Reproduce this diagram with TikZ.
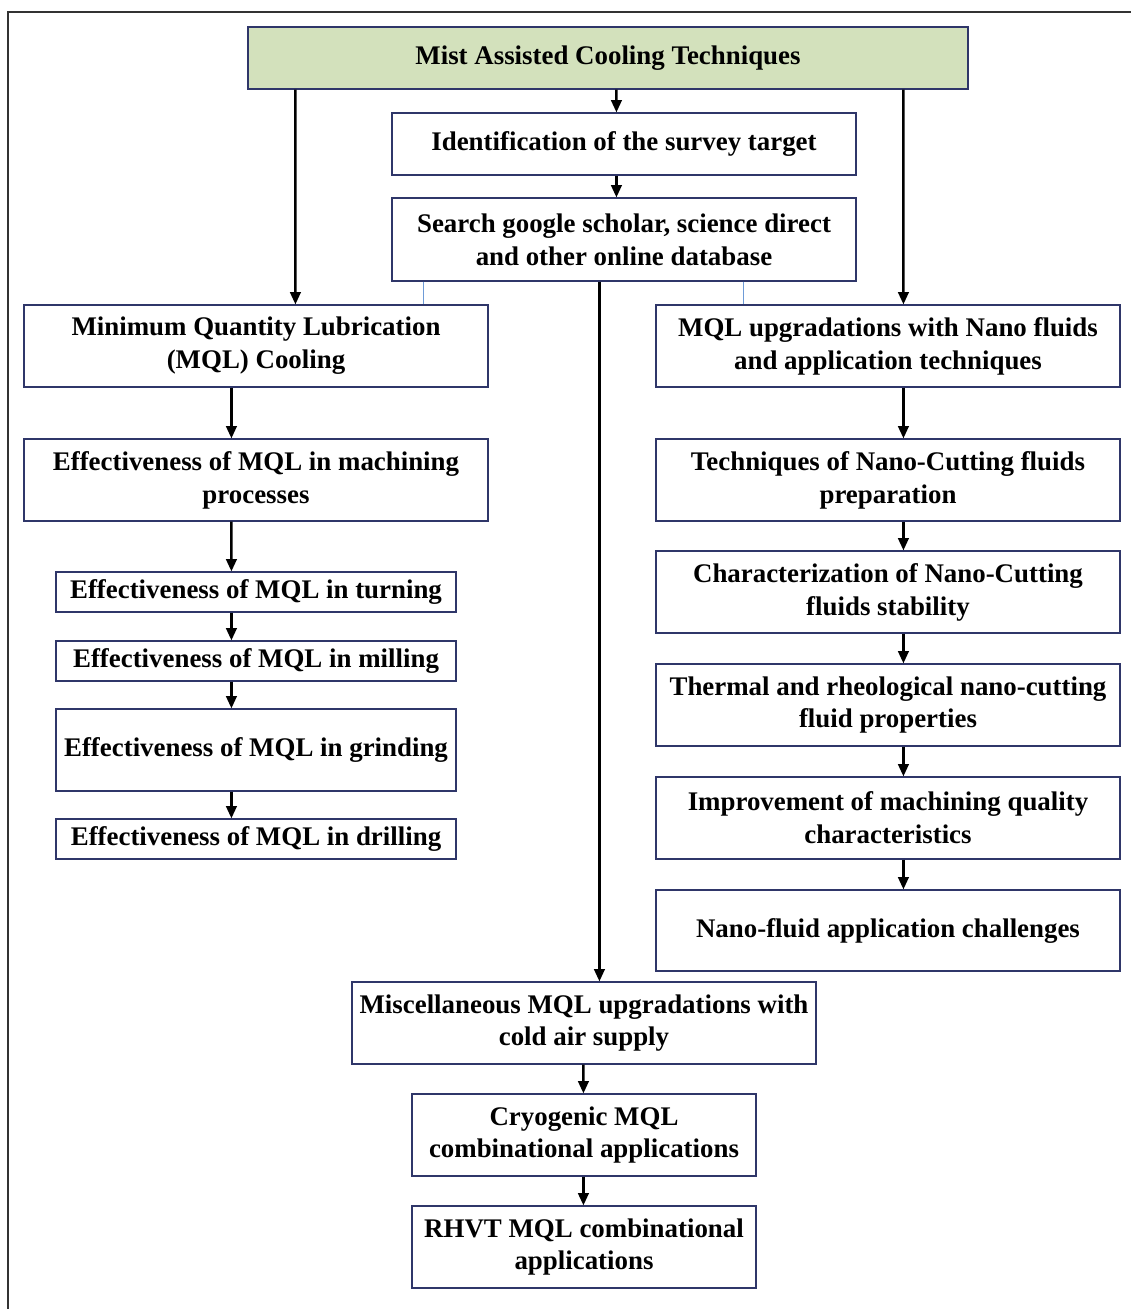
\documentclass[tikz,border=0pt]{standalone}
\usepackage{fontspec}
\setmainfont{Liberation Serif}
\usetikzlibrary{calc,arrows.meta}
\definecolor{navy}{RGB}{47,54,105}
\definecolor{topgreen}{RGB}{211,225,188}
\definecolor{thinblue}{RGB}{110,155,215}
\begin{document}
\begin{tikzpicture}[x=0.02cm,y=-0.02cm,
  box/.style={draw=navy,line width=0.7pt,inner sep=0pt,align=center,
    minimum width=9.28cm,minimum height=1.64cm,
    font=\fontsize{15.3}{18.7}\selectfont\bfseries},
  arr/.style={draw=black,line width=1.4pt,-{Triangle[length=7pt,width=6pt]}},
  thin/.style={draw=thinblue,line width=0.5pt}]
\useasboundingbox (0,0) rectangle (1131,1309);
% outer frame
\draw[line width=1pt,black!80] (8,1320) -- (8,12) -- (1140,12);
% boxes
\node[box,fill=topgreen,minimum width=14.4cm,minimum height=1.24cm] (top) at (608,58) {Mist Assisted Cooling Techniques};
\node[box,minimum height=1.24cm] (ident) at (624,144) {Identification of the survey target};
\node[box,minimum height=1.66cm] (search) at (624,239.5) {Search google scholar, science direct\\and other online database};
\node[box] (mql) at (256,346) {Minimum Quantity Lubrication\\(MQL) Cooling};
\node[box] (nano) at (888,346) {MQL upgradations with Nano fluids\\and application techniques};
\node[box] (effm) at (256,480) {Effectiveness of MQL in machining\\processes};
\node[box,minimum width=8cm,minimum height=0.8cm] (turn) at (256,592) {Effectiveness of MQL in turning};
\node[box,minimum width=8cm,minimum height=0.8cm] (mill) at (256,661) {Effectiveness of MQL in milling};
\node[box,minimum width=8cm] (grind) at (256,750) {Effectiveness of MQL in grinding};
\node[box,minimum width=8cm,minimum height=0.8cm] (drill) at (256,839) {Effectiveness of MQL in drilling};
\node[box] (tech) at (888,480) {Techniques of Nano-Cutting fluids\\preparation};
\node[box] (char) at (888,592) {Characterization of Nano-Cutting\\fluids stability};
\node[box] (therm) at (888,705) {Thermal and rheological nano-cutting\\fluid properties};
\node[box] (impr) at (888,818) {Improvement of machining quality\\characteristics};
\node[box,minimum height=1.62cm] (chal) at (888,930.5) {Nano-fluid application challenges};
\node[box] (misc) at (584,1023) {Miscellaneous MQL upgradations with\\cold air supply};
\node[box,minimum width=6.88cm] (cryo) at (584,1135) {Cryogenic MQL\\combinational applications};
\node[box,minimum width=6.88cm] (rhvt) at (584,1247) {RHVT MQL combinational\\applications};
% thin blue connectors
\draw[thin] ($(search.south west)+(32,0)$) -- ($(mql.north west)+(400,0)$);
\draw[thin] ($(search.south west)+(352,0)$) -- ($(nano.north west)+(88,0)$);
% arrows
\draw[arr] ($(top.south west)+(48,0)$) -- ($(mql.north west)+(272,0)$);
\draw[arr] ($(top.south west)+(369,0)$) -- ($(ident.north west)+(225,0)$);
\draw[arr] ($(top.south west)+(656,0)$) -- ($(nano.north west)+(248,0)$);
\draw[arr] ($(ident.south west)+(225,0)$) -- ($(search.north west)+(225,0)$);
\draw[arr] ($(search.south west)+(208,0)$) -- ($(misc.north west)+(248,0)$);
\draw[arr] ($(mql.south west)+(208,0)$) -- ($(effm.north west)+(208,0)$);
\draw[arr] ($(effm.south west)+(208,0)$) -- ($(turn.north west)+(176,0)$);
\draw[arr] ($(turn.south west)+(176,0)$) -- ($(mill.north west)+(176,0)$);
\draw[arr] ($(mill.south west)+(176,0)$) -- ($(grind.north west)+(176,0)$);
\draw[arr] ($(grind.south west)+(176,0)$) -- ($(drill.north west)+(176,0)$);
\draw[arr] ($(nano.south west)+(248,0)$) -- ($(tech.north west)+(248,0)$);
\draw[arr] ($(tech.south west)+(248,0)$) -- ($(char.north west)+(248,0)$);
\draw[arr] ($(char.south west)+(248,0)$) -- ($(therm.north west)+(248,0)$);
\draw[arr] ($(therm.south west)+(248,0)$) -- ($(impr.north west)+(248,0)$);
\draw[arr] ($(impr.south west)+(248,0)$) -- ($(chal.north west)+(248,0)$);
\draw[arr] ($(misc.south west)+(232,0)$) -- ($(cryo.north west)+(172,0)$);
\draw[arr] ($(cryo.south west)+(172,0)$) -- ($(rhvt.north west)+(172,0)$);
\end{tikzpicture}
\end{document}
